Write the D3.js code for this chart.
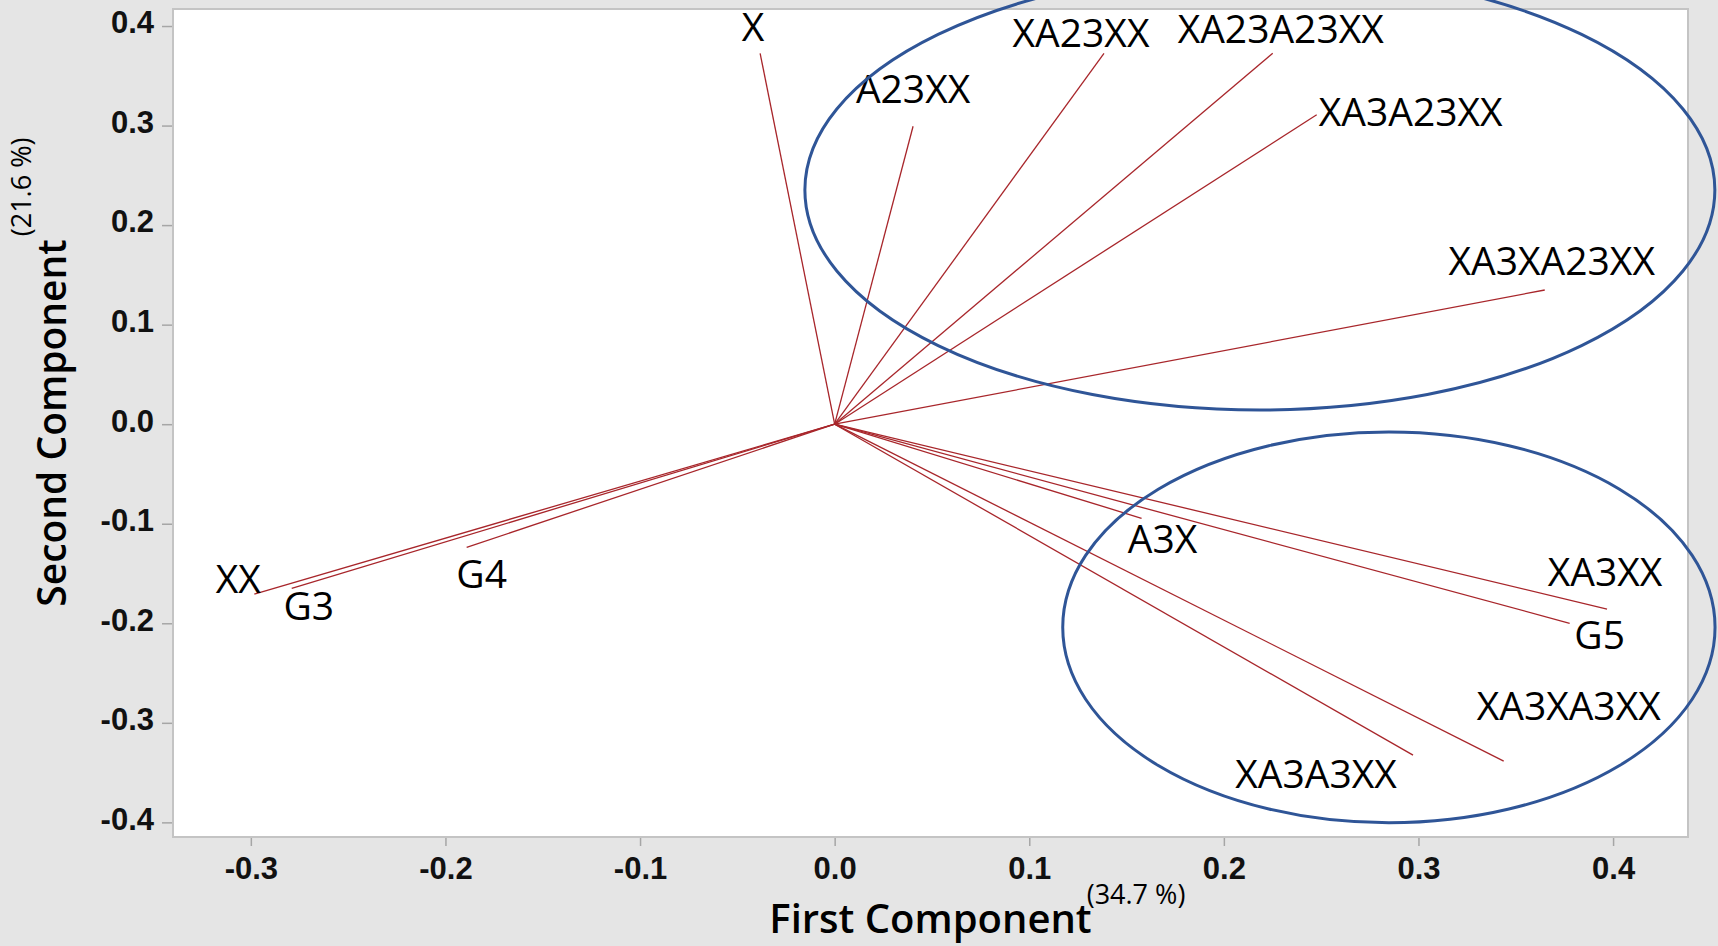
<!DOCTYPE html>
<html>
<head>
<meta charset="utf-8">
<script src="https://cdn.jsdelivr.net/npm/d3@7"></script>
<style>
  html, body { margin: 0; padding: 0; background: #e5e5e5; }
  svg { display: block; font-family: "Open Sans", "Noto Sans", sans-serif; }
</style>
</head>
<body>
<div id="my_dataviz"></div>
<script>
// loading plot data (PC1 / PC2 coefficients)
var names = ["X", "A23XX", "XA23XX", "XA23A23XX", "XA3A23XX", "XA3XA23XX",
             "A3X", "XA3XX", "G5", "XA3XA3XX", "XA3A3XX", "XX", "G3", "G4"];
var pc1 = [-0.0383, 0.0403, 0.1384, 0.2251, 0.2477, 0.3649,
           0.1577, 0.3969, 0.3777, 0.3438, 0.2972, -0.2982, -0.2790, -0.1891];
var pc2 = [0.3726, 0.2993, 0.3726, 0.3726, 0.3109, 0.1348,
           -0.0945, -0.1857, -0.2000, -0.3384, -0.3324, -0.1706, -0.1649, -0.1237];

var xTicks = [-0.3, -0.2, -0.1, 0.0, 0.1, 0.2, 0.3, 0.4];
var yTicks = [-0.4, -0.3, -0.2, -0.1, 0.0, 0.1, 0.2, 0.3, 0.4];
var xDomain = [-0.340, 0.4385];
var yDomain = [-0.4147, 0.4171];

var xTitle = "First Component", xPct = "(34.7 %)";
var yTitle = "Second Component", yPct = "(21.6 %)";

// hand drawn groups (centre + radii, in component units)
var groupCx = [0.2185, 0.2848];
var groupCy = [0.2353, -0.2041];
var groupRx = [0.2338, 0.1676];
var groupRy = [0.2210, 0.1963];

// label nudges in px from the end of each vector (label centre, baseline)
var labelDx = [-7, 0, -23, 8, 94, 7, 21, -2, 30, 65, -97, -16, 17, 15];
var labelDy = [-12, -23, -6, -10, 11, -15, 35, -23, 26, -41, 33, -1, 32, 41];

var W = 1718, H = 946;
var plot = {left: 173, right: 1688, top: 9, bottom: 837};

var svg = d3.select("#my_dataviz")
    .append("svg")
    .attr("width", W)
    .attr("height", H);

svg.append("rect")
    .attr("width", W)
    .attr("height", H)
    .style("fill", "#e5e5e5");

// X and Y scales
var x = d3.scaleLinear().domain(xDomain).range([plot.left, plot.right]);
var y = d3.scaleLinear().domain(yDomain).range([plot.bottom, plot.top]);

// white plot area
svg.append("rect")
    .attr("x", plot.left)
    .attr("y", plot.top)
    .attr("width", plot.right - plot.left)
    .attr("height", plot.bottom - plot.top)
    .style("fill", "white")
    .style("stroke", "#c4c4c4")
    .style("stroke-width", 2);

var fmt = function(d) { return d.toFixed(1); };

var gX = svg.append("g")
    .attr("transform", "translate(0," + (plot.bottom + 1) + ")")
    .call(d3.axisBottom(x).tickValues(xTicks).tickFormat(fmt).tickSize(8).tickPadding(11));
var gY = svg.append("g")
    .attr("transform", "translate(" + (plot.left - 1) + ",0)")
    .call(d3.axisLeft(y).tickValues(yTicks).tickFormat(fmt).tickSize(10).tickPadding(8));

[gX, gY].forEach(function(g) {
    g.select(".domain").remove();
    g.selectAll(".tick line").style("stroke", "#a6a6a6").style("stroke-width", 1.5);
    g.selectAll(".tick text")
        .style("font-size", "31px")
        .style("font-weight", 600)
        .style("fill", "#111");
});
gY.selectAll(".tick text").attr("dy", "0.22em");

var data = names.map(function(n, i) {
    return {name: n, pc1: pc1[i], pc2: pc2[i], dx: labelDx[i], dy: labelDy[i]};
});

// vectors from origin
svg.append("g")
    .selectAll("line")
    .data(data)
    .enter()
    .append("line")
    .attr("x1", x(0))
    .attr("y1", y(0))
    .attr("x2", function(d) { return x(d.pc1); })
    .attr("y2", function(d) { return y(d.pc2); })
    .style("stroke", "#a8262b")
    .style("stroke-width", 1.3);

// vector labels
svg.append("g")
    .selectAll("text")
    .data(data)
    .enter()
    .append("text")
    .attr("x", function(d) { return x(d.pc1) + d.dx; })
    .attr("y", function(d) { return y(d.pc2) + d.dy; })
    .attr("text-anchor", "middle")
    .style("font-size", "39px")
    .style("fill", "#000")
    .text(function(d) { return d.name; });

// group ellipses (drawn over the frame, not clipped)
svg.append("g")
    .selectAll("ellipse")
    .data(groupCx)
    .enter()
    .append("ellipse")
    .attr("cx", function(d) { return x(d); })
    .attr("cy", function(d, i) { return y(groupCy[i]); })
    .attr("rx", function(d, i) { return x(groupRx[i]) - x(0); })
    .attr("ry", function(d, i) { return y(0) - y(groupRy[i]); })
    .style("fill", "none")
    .style("stroke", "#2f5597")
    .style("stroke-width", 3);

// X axis title + explained variance
var midX = (plot.left + plot.right) / 2;
var xt = svg.append("text")
    .attr("x", midX)
    .attr("y", 933)
    .attr("text-anchor", "middle")
    .style("font-size", "40px")
    .style("font-weight", 600)
    .text(xTitle);
var xw = xt.node().getComputedTextLength();
svg.append("text")
    .attr("x", midX + xw / 2 - 5)
    .attr("y", 904)
    .style("font-size", "27px")
    .text(xPct);

// Y axis title + explained variance
var midY = (plot.top + plot.bottom) / 2;
var yt = svg.append("text")
    .attr("transform", "translate(66," + midY + ") rotate(-90)")
    .attr("text-anchor", "middle")
    .style("font-size", "39px")
    .style("font-weight", 600)
    .text(yTitle);
var yw = yt.node().getComputedTextLength();
svg.append("text")
    .attr("transform", "translate(31," + (midY - yw / 2 - 3) + ") rotate(-90)")
    .style("font-size", "27px")
    .text(yPct);
</script>
</body>
</html>
